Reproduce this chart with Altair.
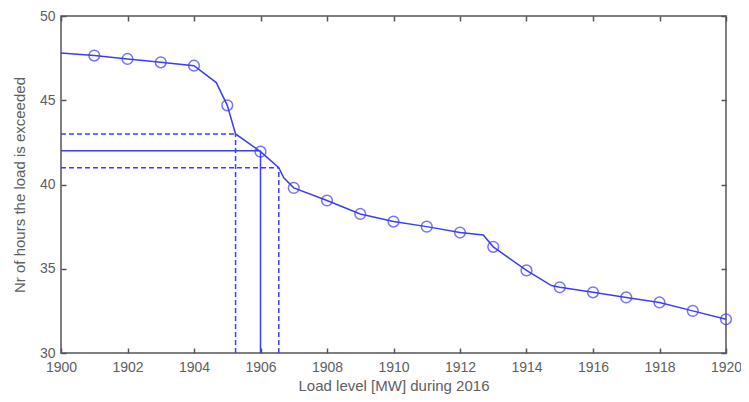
import altair as alt
import pandas as pd

# Marker points (circles)
mx = [1901, 1902, 1903, 1904, 1905, 1906, 1907, 1908, 1909, 1910,
      1911, 1912, 1913, 1914, 1915, 1916, 1917, 1918, 1919, 1920]
my = [47.65, 47.45, 47.25, 47.05, 44.7, 41.95, 39.8, 39.05, 38.25, 37.8,
      37.5, 37.15, 36.3, 34.9, 33.9, 33.6, 33.3, 33.0, 32.5, 32.0]

# Curve vertices (includes the kinks between markers)
lx = [1900, 1901, 1902, 1903, 1904, 1904.67, 1905, 1905.25, 1906, 1906.55,
      1906.7, 1907, 1908, 1909, 1910, 1911, 1912, 1912.7, 1913, 1914,
      1914.75, 1915, 1916, 1917, 1918, 1919, 1920]
ly = [47.8, 47.65, 47.45, 47.25, 47.05, 46.05, 44.7, 43.0, 41.95, 41.0,
      40.4, 39.8, 39.05, 38.25, 37.8, 37.5, 37.15, 37.0, 36.3, 34.9,
      34.0, 33.9, 33.6, 33.3, 33.0, 32.5, 32.0]

# Reference lines: (x level, y level, dashed?)
ref_x = [1905.25, 1906.0, 1906.55]
ref_y = [43.0, 42.0, 41.0]
ref_dash = [True, False, True]

x_ticks = list(range(1900, 1921, 2))
y_ticks = [30, 35, 40, 45, 50]

BLUE = "#3d3df2"
FRAME = "#555555"
TXT = "#606060"
FONT = "Liberation Sans"

markers = pd.DataFrame({"x": mx, "y": my})
curve = pd.DataFrame({"x": lx, "y": ly, "o": list(range(len(lx)))})
refs = pd.DataFrame({"x": ref_x, "y": ref_y, "x0": [1900] * 3, "y0": [30] * 3,
                     "dash": ref_dash})

xscale = alt.Scale(domain=[1900, 1920], nice=False, zero=False)
yscale = alt.Scale(domain=[30, 50], nice=False, zero=False)

common_axis = dict(domain=False, grid=False, tickColor=FRAME, tickWidth=1.5,
                   tickSize=5, offset=-5, labelColor=TXT, labelFont=FONT,
                   labelFontSize=14, titleColor=TXT, titleFont=FONT,
                   titleFontSize=15, titleFontWeight="normal")

xaxis = alt.Axis(values=x_ticks, format="d", labelPadding=7,
                 title="Load level [MW] during 2016", titlePadding=4,
                 labelFlush=False, **common_axis)
yaxis = alt.Axis(values=y_ticks, labelPadding=6,
                 title="Nr of hours the load is exceeded", titlePadding=12,
                 **common_axis)

dash_enc = alt.condition("datum.dash", alt.value([5, 3]), alt.value([1, 0]))

line = alt.Chart(curve).mark_line(color=BLUE, strokeWidth=1.5).encode(
    x=alt.X("x:Q", scale=xscale, axis=xaxis),
    y=alt.Y("y:Q", scale=yscale, axis=yaxis), order="o:Q")

pts = alt.Chart(markers).mark_point(shape="circle", size=115, filled=False,
                                    color=BLUE, strokeWidth=1.5).encode(
    x=alt.X("x:Q", scale=xscale, axis=None), y=alt.Y("y:Q", scale=yscale, axis=None))

hrules = alt.Chart(refs).mark_rule(color=BLUE, strokeWidth=1.5).encode(
    x=alt.X("x0:Q", scale=xscale, axis=None), x2="x:Q",
    y=alt.Y("y:Q", scale=yscale, axis=None),
    strokeDash=dash_enc)

vrules = alt.Chart(refs).mark_rule(color=BLUE, strokeWidth=1.5).encode(
    x=alt.X("x:Q", scale=xscale, axis=None),
    y=alt.Y("y0:Q", scale=yscale, axis=None), y2="y:Q",
    strokeDash=dash_enc)

# mirrored ticks on top and right
mirror_axis = dict(domain=False, grid=False, tickColor=FRAME, tickWidth=1.5,
                   tickSize=5, offset=-5, labels=False, title=None)
mirror = alt.Chart(markers).mark_point(opacity=0).encode(
    x=alt.X("x:Q", scale=xscale,
            axis=alt.Axis(orient="top", values=x_ticks, **mirror_axis)),
    y=alt.Y("y:Q", scale=yscale,
            axis=alt.Axis(orient="right", values=y_ticks, **mirror_axis)))

chart = alt.layer(line, mirror, hrules, vrules, pts).resolve_axis(
    x="independent", y="independent").properties(
    width=665, height=337,
    autosize=alt.AutoSizeParams(type="none"),
    padding={"left": 53, "top": 8, "right": 15, "bottom": 41},
    background="white",
).configure_view(stroke=FRAME, strokeWidth=1.5)

chart.save("out.html", embed_options={"renderer": "svg", "actions": False})
